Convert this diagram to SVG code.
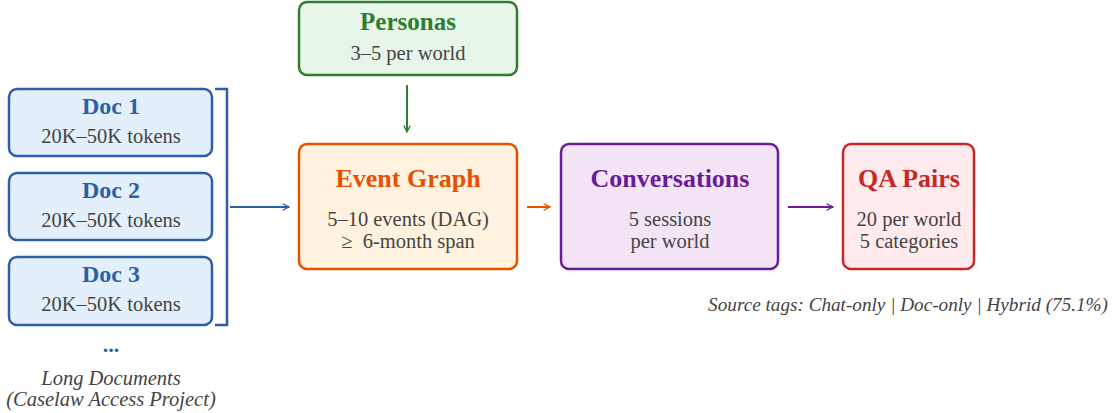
<svg xmlns="http://www.w3.org/2000/svg" width="1114" height="413" viewBox="0 0 1114 413">
<style>
.t{font-family:"Liberation Serif","Times New Roman",serif;font-weight:bold;text-anchor:middle}
.s{font-family:"Liberation Serif","Times New Roman",serif;fill:#444;text-anchor:middle;font-size:20.5px}
.i{font-family:"Liberation Serif","Times New Roman",serif;fill:#444;font-style:italic;font-size:20.5px}
.box{stroke-width:2.5}
</style>
<defs>
<marker id="ab" viewBox="0 0 10 10" refX="9" refY="5" markerWidth="8" markerHeight="8" markerUnits="userSpaceOnUse" orient="auto"><path d="M1 1L9 5L1 9" fill="none" stroke="#2c5fa8" stroke-width="1.6"/></marker>
<marker id="ag" viewBox="0 0 10 10" refX="9" refY="5" markerWidth="8" markerHeight="8" markerUnits="userSpaceOnUse" orient="auto"><path d="M1 1L9 5L1 9" fill="none" stroke="#2e7d32" stroke-width="1.6"/></marker>
<marker id="ao" viewBox="0 0 10 10" refX="9" refY="5" markerWidth="8" markerHeight="8" markerUnits="userSpaceOnUse" orient="auto"><path d="M1 1L9 5L1 9" fill="none" stroke="#e65100" stroke-width="1.6"/></marker>
<marker id="ap" viewBox="0 0 10 10" refX="9" refY="5" markerWidth="8" markerHeight="8" markerUnits="userSpaceOnUse" orient="auto"><path d="M1 1L9 5L1 9" fill="none" stroke="#6a1b9a" stroke-width="1.6"/></marker>
</defs>
<g id="doc1"><rect class="box" x="9" y="89" width="203" height="67" rx="8" fill="#e3f0fb" stroke="#2c5fa8"/><text class="t" x="111" y="114" font-size="24" fill="#2c5fa8">Doc 1</text><text class="s" x="111" y="143">20K–50K tokens</text></g>
<g id="doc2"><rect class="box" x="9" y="173" width="203" height="67" rx="8" fill="#e3f0fb" stroke="#2c5fa8"/><text class="t" x="111" y="198" font-size="24" fill="#2c5fa8">Doc 2</text><text class="s" x="111" y="227">20K–50K tokens</text></g>
<g id="doc3"><rect class="box" x="9" y="257" width="203" height="68" rx="8" fill="#e3f0fb" stroke="#2c5fa8"/><text class="t" x="111" y="282" font-size="24" fill="#2c5fa8">Doc 3</text><text class="s" x="111" y="311">20K–50K tokens</text></g>
<g id="docs-label"><text class="t" x="111" y="352" font-size="22" fill="#2c5fa8">...</text><text class="i" x="111" y="385" text-anchor="middle">Long Documents</text><text class="i" x="111" y="406" text-anchor="middle">(Caselaw Access Project)</text></g>
<g id="personas"><rect class="box" x="299" y="2" width="218" height="73" rx="8" fill="#e8f5e9" stroke="#2e7d32"/><text class="t" x="408" y="30" font-size="25" fill="#2e7d32">Personas</text><text class="s" x="408" y="60">3–5 per world</text></g>
<g id="event"><rect class="box" x="299" y="144" width="218" height="125" rx="8" fill="#fff3e0" stroke="#e65100"/><text class="t" x="408" y="187" font-size="26" fill="#e65100">Event Graph</text><text class="s" x="408" y="226">5–10 events (DAG)</text><text class="s" x="408" y="248">≥&#160; 6-month span</text></g>
<g id="conv"><rect class="box" x="561" y="144" width="217" height="125" rx="8" fill="#f3e5f5" stroke="#6a1b9a"/><text class="t" x="670" y="187" font-size="26" fill="#6a1b9a">Conversations</text><text class="s" x="670" y="226">5 sessions</text><text class="s" x="670" y="248">per world</text></g>
<g id="qa"><rect class="box" x="843" y="144" width="131" height="125" rx="8" fill="#ffebee" stroke="#c62828"/><text class="t" x="909" y="187" font-size="26" fill="#c62828">QA Pairs</text><text class="s" x="909" y="226">20 per world</text><text class="s" x="909" y="248">5 categories</text></g>
<g id="note"><text class="i" x="1108" y="311" text-anchor="end" style="font-size:19.2px">Source tags: Chat-only | Doc-only | Hybrid (75.1%)</text></g>
<g id="connectors" fill="none" stroke-width="2">
<path d="M215 89H227V325H215" stroke="#2c5fa8" stroke-width="2.5"/>
<path d="M230 207H289" stroke="#2c5fa8" marker-end="url(#ab)"/>
<path d="M407 85V132" stroke="#2e7d32" marker-end="url(#ag)"/>
<path d="M527 207H550" stroke="#e65100" marker-end="url(#ao)"/>
<path d="M788 207H833" stroke="#6a1b9a" marker-end="url(#ap)"/>
</g>
</svg>
